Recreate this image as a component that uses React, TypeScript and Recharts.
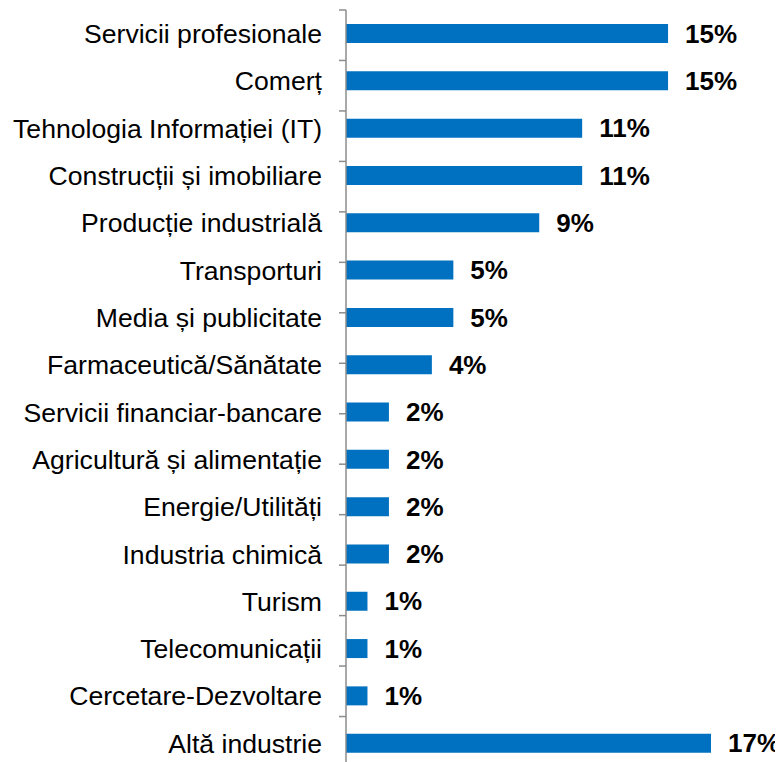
import { BarChart, Bar, XAxis, YAxis, LabelList } from "recharts";

const industries = [
  "Servicii profesionale",
  "Comerț",
  "Tehnologia Informației (IT)",
  "Construcții și imobiliare",
  "Producție industrială",
  "Transporturi",
  "Media și publicitate",
  "Farmaceutică/Sănătate",
  "Servicii financiar-bancare",
  "Agricultură și alimentație",
  "Energie/Utilități",
  "Industria chimică",
  "Turism",
  "Telecomunicații",
  "Cercetare-Dezvoltare",
  "Altă industrie",
];

const shares = [15, 15, 11, 11, 9, 5, 5, 4, 2, 2, 2, 2, 1, 1, 1, 17];

// boundaries between categories, used for the tick marks on the axis
const boundaryTicks = industries.map((_, i) => i).concat(industries.length);

const data = industries.map((name, i) => ({ name, value: shares[i] }));

const FONT = "'Liberation Sans', Arial, sans-serif";

export default function App() {
  return (
    <BarChart
      width={775}
      height={760}
      data={data}
      layout="vertical"
      margin={{ top: 2, right: 72, bottom: 1, left: 0 }}
      style={{ fontFamily: FONT }}
    >
      <XAxis type="number" domain={[0, 17]} hide />
      <YAxis
        yAxisId="axis"
        type="number"
        domain={[0, industries.length]}
        ticks={boundaryTicks}
        interval={0}
        reversed
        width={1}
        tickSize={7}
        tickFormatter={() => ""}
        axisLine={{ stroke: "#8c8c8c", strokeWidth: 1.5 }}
        tickLine={{ stroke: "#8c8c8c", strokeWidth: 1.5 }}
      />
      <YAxis
        yAxisId="labels"
        type="category"
        dataKey="name"
        width={337}
        axisLine={false}
        tickLine={false}
        tickMargin={17}
        interval={0}
        tick={{ fill: "#000", fontSize: 26.6, fontFamily: FONT }}
      />
      <Bar yAxisId="labels" dataKey="value" fill="#0070C0" barSize={19} isAnimationActive={false}>
        <LabelList
          dataKey="value"
          position="right"
          offset={17}
          formatter={(v: number) => `${v}%`}
          style={{ fill: "#000", fontSize: 26, fontWeight: "bold", fontFamily: FONT }}
        />
      </Bar>
    </BarChart>
  );
}
